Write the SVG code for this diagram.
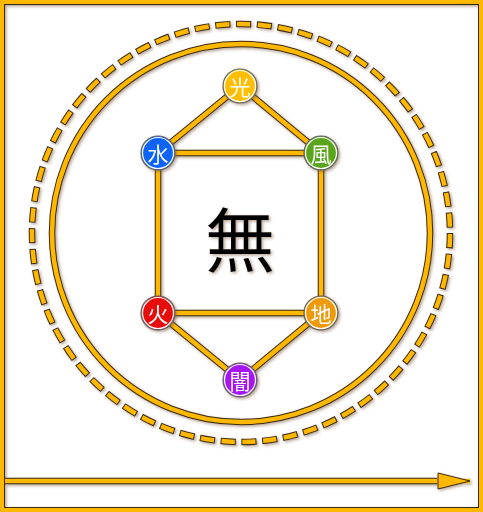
<svg xmlns="http://www.w3.org/2000/svg" width="483" height="512" viewBox="0 0 483 512">
<style>
.o{fill:none;stroke:#3a2a10;stroke-width:6.5}
.i{fill:none;stroke:#FFB800;stroke-width:4.5}
.nb{stroke:#666;stroke-width:1.2}
.nr{fill:none;stroke:#fff;stroke-width:1.2}
.t{font-family:"Noto Sans CJK JP","Noto Sans CJK SC",sans-serif;font-size:21px;fill:#fff;text-anchor:middle;dominant-baseline:central}
</style>
<defs>
<filter id="sh" x="-10%" y="-10%" width="120%" height="120%">
<feDropShadow dx="1.5" dy="1.5" stdDeviation="1.5" flood-color="#7a5a40" flood-opacity="0.55"/>
</filter>
<marker id="ah" viewBox="0 0 34 18" refX="33" refY="9" markerWidth="34" markerHeight="18" markerUnits="userSpaceOnUse" orient="auto">
<path d="M1,1 L33,9 L1,17 Z" fill="#FFB800" stroke="#3a2a10" stroke-width="1"/>
</marker>
</defs>
<rect x="0" y="0" width="483" height="512" fill="#fff"/>
<g filter="url(#sh)">
<rect x="2" y="2" width="479" height="508" fill="none" stroke="#FFB800" stroke-width="4"/>
<rect x="4.5" y="4.5" width="474" height="503" fill="none" stroke="#3a2a10" stroke-width="1"/>
</g>
<g id="connectors" filter="url(#sh)">
<circle cx="241" cy="233" r="209" class="o" stroke-dasharray="15.2 5.64" stroke-width="7"/>
<circle cx="241" cy="233" r="209" class="i" stroke-dasharray="13.2 7.64" stroke-dashoffset="-1" stroke-width="5"/>
<circle cx="241" cy="233" r="189" class="o"/>
<circle cx="241" cy="233" r="189" class="i"/>
<path d="M240,86 L158,153 L321,153 Z M158,153 L158,313 M321,153 L321,313 M158,313 L321,313 L240,380 Z" class="o"/>
<path d="M240,86 L158,153 L321,153 Z M158,153 L158,313 M321,153 L321,313 M158,313 L321,313 L240,380 Z" class="i"/>
<line x1="5" y1="481" x2="437" y2="481" class="o"/>
<line x1="5" y1="481" x2="470" y2="481" class="i" marker-end="url(#ah)"/>
</g>
<g id="center" filter="url(#sh)">
<text x="240" y="236" font-family="Noto Sans CJK JP,Noto Sans CJK SC,sans-serif" font-size="70" fill="#000" text-anchor="middle" dominant-baseline="central">無</text>
</g>
<g id="n-hikari" filter="url(#sh)"><circle cx="240" cy="86" r="17" fill="#FFBE00" class="nb"/><circle cx="240" cy="86" r="15.5" class="nr"/><text x="240" y="86" class="t">光</text></g>
<g id="n-mizu" filter="url(#sh)"><circle cx="158" cy="153" r="17" fill="#0B63F6" class="nb"/><circle cx="158" cy="153" r="15.5" class="nr"/><text x="158" y="153" class="t">水</text></g>
<g id="n-kaze" filter="url(#sh)"><circle cx="321" cy="153" r="17" fill="#5AA51C" class="nb"/><circle cx="321" cy="153" r="15.5" class="nr"/><text x="321" y="153" class="t">風</text></g>
<g id="n-hi" filter="url(#sh)"><circle cx="158" cy="313" r="17" fill="#E80A0A" class="nb"/><circle cx="158" cy="313" r="15.5" class="nr"/><text x="158" y="313" class="t">火</text></g>
<g id="n-chi" filter="url(#sh)"><circle cx="321" cy="313" r="17" fill="#EE9A0C" class="nb"/><circle cx="321" cy="313" r="15.5" class="nr"/><text x="321" y="313" class="t">地</text></g>
<g id="n-yami" filter="url(#sh)"><circle cx="240" cy="380" r="17" fill="#A412F2" class="nb"/><circle cx="240" cy="380" r="15.5" class="nr"/><text x="240" y="380" class="t">闇</text></g>
</svg>
